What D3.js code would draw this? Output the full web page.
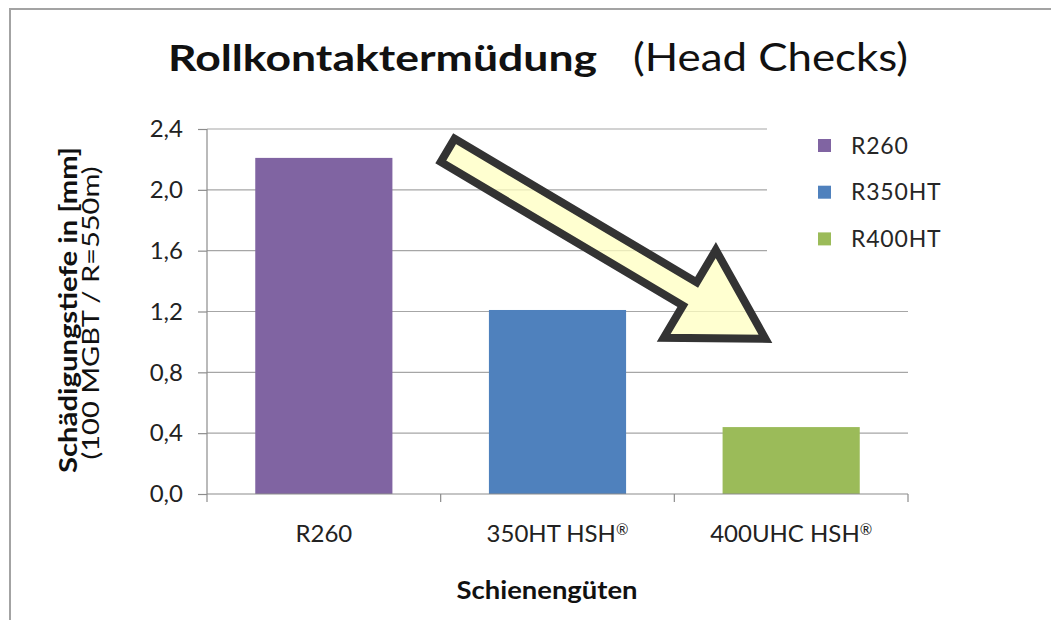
<!DOCTYPE html>
<html>
<head>
<meta charset="utf-8">
<script src="https://cdn.jsdelivr.net/npm/d3@7"></script>
<style>
  html, body { margin: 0; padding: 0; background: #fff; }
  svg { display: block; font-family: Lato, "Open Sans", sans-serif; }
</style>
</head>
<body>
<svg id="chart"></svg>
<script>
const categories = ["R260", "350HT HSH®", "400UHC HSH®"]
const seriesNames = ["R260", "R350HT", "R400HT"]
const values = [2.21, 1.21, 0.44]
const yTicks = [0, 0.4, 0.8, 1.2, 1.6, 2.0, 2.4]
// arrow annotation: [category position, value] for tail centre and tip
const arrowTail = [1.03, 2.26]
const arrowTip = [2.39, 1.02]

const colors = ["#8064A2", "#4F81BD", "#9BBB59"]
const width = 1051, height = 620
const margin = { top: 129, right: 143, bottom: 125, left: 207 }

const svg = d3.select("#chart")
    .attr("width", width)
    .attr("height", height)
    .attr("viewBox", `0 0 ${width} ${height}`)

// outer frame (only top and left edges are in view)
svg.append("path")
    .attr("d", `M10,${height} V9 H${width}`)
    .attr("fill", "none")
    .attr("stroke", "#a3a3a3")
    .attr("stroke-width", 2)

const x = d3.scaleBand()
    .domain(categories)
    .range([margin.left, width - margin.right])
const xPos = d3.scaleLinear()
    .domain([0, categories.length])
    .range([margin.left, width - margin.right])
const y = d3.scaleLinear()
    .domain([0, 2.4])
    .range([height - margin.bottom - 1, margin.top])

// gridlines
svg.append("g")
  .selectAll("line")
  .data(yTicks.slice(1))
  .join("line")
    .attr("x1", margin.left)
    .attr("x2", width - margin.right)
    .attr("y1", d => y(d))
    .attr("y2", d => y(d))
    .attr("stroke", "#a6a6a6")
    .attr("stroke-width", 1.2)

// legend box covers the upper gridlines
const legendX = 767
svg.append("rect")
    .attr("x", legendX)
    .attr("y", margin.top - 10)
    .attr("width", 160)
    .attr("height", 150)
    .attr("fill", "#fff")

const legend = svg.append("g")
  .selectAll("g")
  .data(seriesNames)
  .join("g")
    .attr("transform", (d, i) => `translate(818,${145.5 + i * 46.7})`)
legend.append("rect")
    .attr("x", 0)
    .attr("y", -6.5)
    .attr("width", 13)
    .attr("height", 13)
    .attr("fill", (d, i) => colors[i])
legend.append("text")
    .attr("x", 33)
    .attr("dy", "0.36em")
    .attr("fill", "#262626")
    .style("font-size", "23px")
    .style("letter-spacing", "0.8px")
    .text(d => d)

// bars
const barW = x.bandwidth() * 0.587
svg.append("g")
  .selectAll("rect")
  .data(values)
  .join("rect")
    .attr("x", (d, i) => x(categories[i]) + (x.bandwidth() - barW) / 2)
    .attr("y", d => y(d))
    .attr("width", barW)
    .attr("height", d => y(0) - y(d))
    .attr("fill", (d, i) => colors[i])

// y axis
svg.append("g")
    .attr("transform", `translate(${margin.left},0)`)
    .call(d3.axisLeft(y).tickValues(yTicks).tickSize(9).tickPadding(15)
      .tickFormat(d => d.toFixed(1).replace(".", ",")))
    .call(g => g.selectAll("line, path").attr("stroke", "#8c8c8c").attr("stroke-width", 1.2))
    .call(g => g.select(".domain").attr("d", `M0,${y(0)}V${y(2.4)}`))
    .call(g => g.selectAll("text")
      .attr("fill", "#222")
      .style("font-family", "Lato, sans-serif")
      .style("font-size", "24px"))

// x axis
svg.append("g")
    .attr("transform", `translate(0,${y(0)})`)
    .call(d3.axisBottom(x).tickSize(0).tickPadding(30.5))
    .call(g => g.select(".domain").attr("d", `M${margin.left},0H${width - margin.right}`)
      .attr("stroke", "#8c8c8c").attr("stroke-width", 1.2))
    .call(g => g.selectAll("text")
      .attr("fill", "#222")
      .style("font-family", "Lato, sans-serif")
      .style("font-size", "24px")
      .each(function(d) {
        // small raised ® like the original
        const parts = d.split("®")
        const el = d3.select(this).text(parts[0])
        if (parts.length > 1) {
          el.append("tspan")
              .attr("dx", 0)
              .attr("baseline-shift", "45%")
              .style("font-size", "15px")
              .text("®")
        }
      }))
    .call(g => g.selectAll(".bound")
      .data(d3.range(categories.length + 1))
      .join("line")
        .attr("class", "bound")
        .attr("x1", d => xPos(d))
        .attr("x2", d => xPos(d))
        .attr("y1", 0)
        .attr("y2", 8)
        .attr("stroke", "#8c8c8c")
        .attr("stroke-width", 1.2))

// arrow annotation
const t = [xPos(arrowTail[0]), y(arrowTail[1])]
const p = [xPos(arrowTip[0]), y(arrowTip[1])]
const len = Math.hypot(p[0] - t[0], p[1] - t[1])
const ux = (p[0] - t[0]) / len, uy = (p[1] - t[1]) / len
const nx = -uy, ny = ux
const shaftHalf = 13.5, headHalf = 51, headLen = 88
const pt = (a, b) => [t[0] + ux * a + nx * b, t[1] + uy * a + ny * b]
const arrowPts = [
  pt(0, -shaftHalf), pt(len - headLen, -shaftHalf), pt(len - headLen, -headHalf),
  pt(len, 0),
  pt(len - headLen, headHalf), pt(len - headLen, shaftHalf), pt(0, shaftHalf)
]
svg.append("path")
    .attr("d", d3.line()(arrowPts) + "Z")
    .attr("fill", "#ffffc0")
    .attr("fill-opacity", 0.75)
    .attr("stroke", "#333")
    .attr("stroke-width", 8)
    .attr("stroke-linejoin", "miter")

// titles
const title = svg.append("text")
    .attr("y", 71)
    .attr("fill", "#111")
title.append("tspan")
    .attr("x", 168)
    .attr("textLength", 429)
    .attr("lengthAdjust", "spacingAndGlyphs")
    .style("font-weight", 700)
    .style("font-size", "37px")
    .text("Rollkontaktermüdung")
title.append("tspan")
    .attr("x", 633)
    .attr("textLength", 275)
    .attr("lengthAdjust", "spacingAndGlyphs")
    .style("font-size", "38px")
    .text("(Head Checks)")

svg.append("text")
    .attr("transform", "translate(77,310) rotate(-90)")
    .attr("text-anchor", "middle")
    .attr("textLength", 326)
    .attr("lengthAdjust", "spacingAndGlyphs")
    .attr("fill", "#111")
    .style("font-weight", 700)
    .style("font-size", "24px")
    .text("Schädigungstiefe in [mm]")

svg.append("text")
    .attr("transform", "translate(99,313) rotate(-90)")
    .attr("text-anchor", "middle")
    .attr("textLength", 293)
    .attr("lengthAdjust", "spacingAndGlyphs")
    .attr("fill", "#111")
    .style("font-size", "23px")
    .text("(100 MGBT / R=550m)")

svg.append("text")
    .attr("x", 547)
    .attr("y", 599)
    .attr("text-anchor", "middle")
    .attr("textLength", 181)
    .attr("lengthAdjust", "spacingAndGlyphs")
    .attr("fill", "#111")
    .style("font-weight", 700)
    .style("font-size", "24px")
    .text("Schienengüten")
</script>
</body>
</html>
